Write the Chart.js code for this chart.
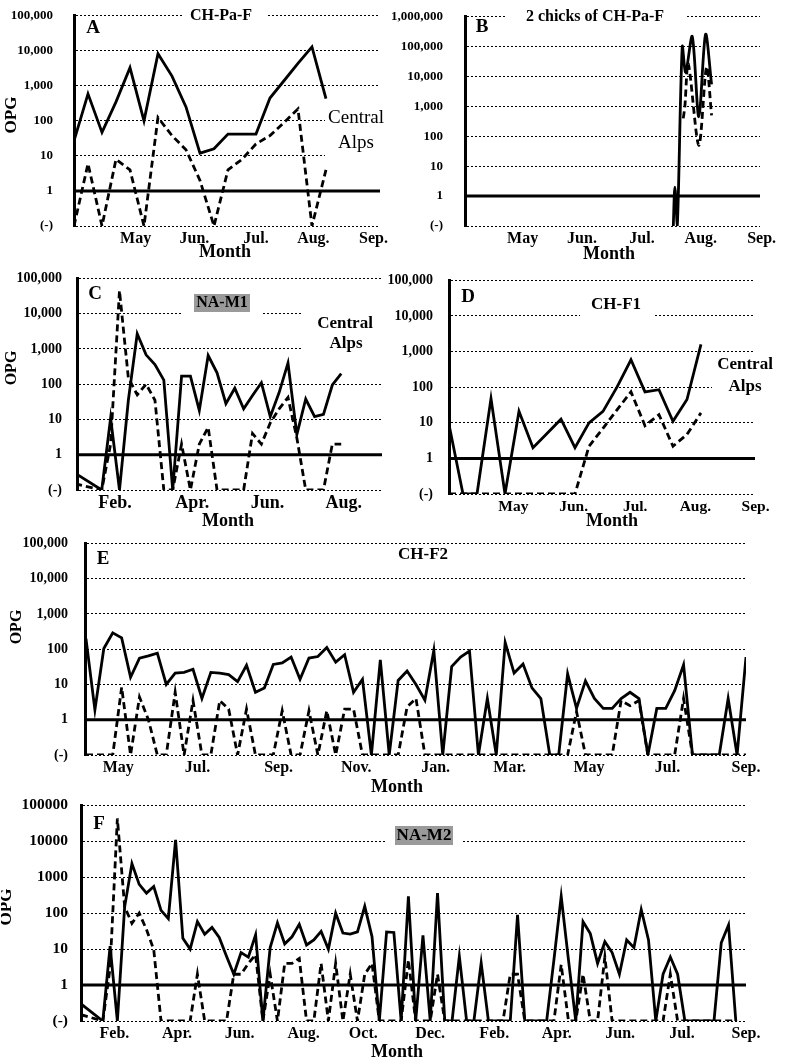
<!DOCTYPE html>
<html>
<head>
<meta charset="utf-8">
<script src="https://cdn.jsdelivr.net/npm/chart.js@4.4.1/dist/chart.umd.min.js"></script>
<style>
  body { margin: 0; background: #fff; }
  #stage { position: relative; width: 787px; height: 1061px; overflow: hidden; background: #fff; }
  #stage canvas { position: absolute; }
</style>
</head>
<body>
<div id="stage"></div>
<script>
// "(-)" = not detected, drawn on the lowest row of the log axis
const NEG = 0.1;

// A: CH-Pa-F (sample index)
const monthsA = ['May', 'Jun.', 'Jul.', 'Aug.', 'Sep.'];
const monthAtA = [4.4, 8.6, 13.0, 17.1, 21.4];
const solidA = [27, 590, 47, 350, 3300, 100, 8300, 1900, 250, 12, 16, 42, 42, 42, 450, 1400, 4400, 13000, 430];
const dashA = [0, 6, 0, 8, 4, 0, 125, 38, 15, 2, 0, 4, 8, 22, 38, 90, 220, 0, 4];

// B: 2 chicks of CH-Pa-F (days)
const monthsB = ['May', 'Jun.', 'Jul.', 'Aug.', 'Sep.'];
const monthAtB = [28.9, 58.7, 88.8, 118.3, 148.8];
const daysB = [104.5, 105.3, 106.5, 109, 110.7, 114, 117.3, 120.7, 123.7];
const solidB = [0, 2, 0, 100000, 14000, 220000, 450, 260000, 5500];
const daysBd = [109.5, 110.3, 112, 117.3, 121.2, 123.7];
const dashB = [400, 1000, 27000, 50, 21000, 500];

// C: NA-M1
const monthsC = ['Feb.', 'Apr.', 'Jun.', 'Aug.'];
const monthAtC = [4.5, 13.2, 21.7, 30.3];
const solidC = [0.3, null, null, 0, 11, 0, 35, 2700, 680, 360, 130, 0, 170, 170, 18, 650, 210, 28, 77, 20,
  48, 110, 12, 58, 400, 3.7, 38, 12, 14, 95, 200];
const dashC = [0.15, null, null, 0, 2, 45000, 150, 50, 100, 35, 0, 0, 2, 0, 2, 6, 0, 0, 0, 0,
  4, 2, 8, 20, 42, 3, 0, 0, 0, 2, 2];

// D: CH-F1
const monthsD = ['May', 'Jun.', 'Jul.', 'Aug.', 'Sep.'];
const monthAtD = [4.6, 8.9, 13.3, 17.6, 21.9];
const solidD = [9, 0, 0, 48, 0, 21, 2, 5, 12.6, 2, 10, 21, 100, 590, 74, 85, 11, 45, 1600];
const dashD = [0, 0, 0, 0, 0, 0, 0, 0, 0, 0, 2.2, 7, 23, 74, 8.3, 17, 2.2, 4.7, 19];

// E: CH-F2
const monthsE = ['May', 'Jul.', 'Sep.', 'Nov.', 'Jan.', 'Mar.', 'May', 'Jul.', 'Sep.'];
const monthAtE = [3.62, 12.5, 21.6, 30.3, 39.2, 47.5, 56.4, 65.2, 74];
const solidE = [200, 1.9, 105, 290, 210, 16, 56, 65, 77, 10,
  21, 22, 27, 4, 22, 21, 19, 12, 35, 6,
  8, 37, 41, 60, 14, 56, 62, 112, 43, 70,
  6, 14, 0, 50, 0, 13, 24, 10, 3.6, 92,
  0, 32, 60, 89, 0, 4, 0, 155, 21, 38,
  8, 4, 0, 0, 20, 2.1, 12.6, 4, 2.1, 2.1,
  4, 6, 4, 0, 2.1, 2.1, 6.7, 36, 0, 0,
  0, 0, 4, 0, 60];
const dashE = [0, 0, 0, 0, 8.3, 0, 4.4, 1, 0, 0,
  6, 0, 3.5, 0, 0, 3.5, 2, 0, 2, 0,
  0, 0, 1.8, 0, 0, 1.8, 0, 1.8, 0, 2,
  2, 0, 0, 0, 0, 0, 2.3, 4, 0, 0,
  0, 0, 0, 0, 0, 0, 0, 0, 0, 0,
  0, 0, 0, 0, 0, 1.7, 0, 0, 0, 0,
  3.5, 2.5, 3.5, 0, 0, 0, 0, 4, 0, 0,
  0, 0, 0, 0, 0];

// F: NA-M2
const monthsF = ['Feb.', 'Apr.', 'Jun.', 'Aug.', 'Oct.', 'Dec.', 'Feb.', 'Apr.', 'Jun.', 'Jul.', 'Sep.'];
const monthAtF = [4.6, 13.2, 21.8, 30.6, 38.8, 48.0, 56.8, 65.4, 74.1, 82.6, 91.4];
const solidF = [0.3, null, null, 0, 12, 0, 150, 2400, 630, 360,
  550, 120, 70, 11000, 20, 10, 58, 26, 40, 21,
  6.3, 2, 8, 6, 25, 0, 11, 54, 14, 22,
  49, 13, 18, 31, 10, 100, 28, 26, 30, 155,
  22, 0, 30, 29, 0, 295, 0, 24, 0, 360,
  0, 0, 6.3, 0, 0, 4.1, 0, 0, 0, 0,
  90, 0, 0, 0, 0, 5, 295, 5, 0, 58,
  27, 4, 16, 8, 2, 18, 11, 126, 18, 0,
  2, 6, 2, 0, 0, 0, 0, 0, 15, 47,
  0];
const dashF = [0.15, null, null, 0, 3, 43000, 150, 52, 100, 35,
  9.6, 0, 0, 0, 0, 0, 2, 0, 0, 0,
  0, 2, 2, 4, 7, 0, 2, 0, 4, 4,
  5.5, 0, 0, 4, 0, 4, 0, 2, 0, 2,
  4, 0, 0, 0, 0, 5, 0, 0, 0, 2,
  0, 0, 0, 0, 0, 0, 0, 0, 0, 2,
  2, 0, 0, 0, 0, 0, 3.7, 0, 0, 2,
  0, 0, 6, 0, 0, 0, 0, 0, 0, 0,
  0, 2, 0, 0, 0, 0, 0, 0, 0, 0,
  0];

const SERIF = '"Liberation Serif", "Times New Roman", serif';
const LEFT = 80, TOP = 20, RIGHT = 40, BOTTOM = 50;

function points(vals, xs) {
  return vals.map((v, i) => ({ x: xs ? xs[i] : i, y: v === null ? null : (v === 0 ? NEG : v) }));
}

function notesPlugin(p, ox, oy) {
  return {
    id: 'notes',
    beforeDatasetsDraw(chart) {
      const ctx = chart.ctx;
      ctx.save();
      (p.boxes || []).forEach(b => {
        ctx.fillStyle = b.fill;
        ctx.fillRect(b.x0 - ox, b.y0 - oy, b.x1 - b.x0, b.y1 - b.y0);
      });
      ctx.restore();
    },
    afterDatasetsDraw(chart) {
      const ctx = chart.ctx;
      ctx.save();
      ctx.fillStyle = '#000';
      ctx.textAlign = 'center';
      ctx.textBaseline = 'middle';
      p.notes.forEach(n => {
        ctx.font = (n.normal ? '' : 'bold ') + n.size + 'px ' + SERIF;
        if (n.rotate) {
          ctx.save();
          ctx.translate(n.x - ox, n.y - oy);
          ctx.rotate(-Math.PI / 2);
          ctx.fillText(n.text, 0, 0);
          ctx.restore();
        } else {
          ctx.fillText(n.text, n.x - ox, n.y - oy);
        }
      });
      ctx.restore();
    }
  };
}

function drawPanel(p) {
  const a = p.area;
  const ox = a.l - LEFT, oy = a.t - TOP;
  const canvas = document.createElement('canvas');
  canvas.width = a.r - a.l + LEFT + RIGHT;
  canvas.height = a.b - a.t + TOP + BOTTOM;
  canvas.style.left = ox + 'px';
  canvas.style.top = oy + 'px';
  document.getElementById('stage').appendChild(canvas);

  const yTicks = [0.1, 1, 10, 100, 1000, 10000, 100000, 1000000].filter(v => v <= p.yMax);
  const line = { borderColor: '#000', borderWidth: 2.8, pointRadius: 0, tension: p.tension || 0, spanGaps: true };

  new Chart(canvas, {
    type: 'line',
    data: {
      datasets: [
        Object.assign({ data: points(p.solid, p.xs) }, line),
        Object.assign({ data: points(p.dash, p.xsDash || p.xs), borderDash: [7, 4] }, line),
        { data: [{ x: p.xMin, y: 1 }, { x: p.xMax, y: 1 }], borderColor: '#000', borderWidth: 3, pointRadius: 0 }
      ]
    },
    options: {
      responsive: false,
      animation: false,
      devicePixelRatio: 1,
      layout: { padding: { top: TOP, right: RIGHT, left: 0, bottom: 0 } },
      plugins: { legend: { display: false }, tooltip: { enabled: false } },
      scales: {
        x: {
          type: 'linear',
          min: p.xMin,
          max: p.xMax,
          grid: { display: false, drawTicks: false },
          border: { display: false },
          afterBuildTicks: s => { s.ticks = p.monthAt.map(v => ({ value: v })); },
          afterFit: s => { s.height = BOTTOM; },
          ticks: {
            autoSkip: false, maxRotation: 0, minRotation: 0,
            padding: p.xPad, color: '#000',
            font: { family: SERIF, size: p.xFont, weight: 'bold' },
            callback: (v, i) => p.months[i]
          }
        },
        y: {
          type: 'logarithmic',
          min: 0.1,
          max: p.yMax,
          afterBuildTicks: s => { s.ticks = yTicks.map(v => ({ value: v })); },
          afterFit: s => { s.width = LEFT; },
          grid: { color: '#000', lineWidth: 1, drawTicks: false },
          border: { display: true, color: '#000', width: 3, dash: [2, 2] },
          ticks: {
            padding: p.yPad, color: '#000',
            font: { family: SERIF, size: p.yFont, weight: 'bold' },
            callback: v => {
              if (Math.abs(v - 0.1) < 1e-9) return '(-)';
              return p.plain ? String(Math.round(v)) : Math.round(v).toLocaleString('en-US');
            }
          }
        }
      }
    },
    plugins: [notesPlugin(p, ox, oy)]
  });
}

const WHITE = '#fff', GREY = '#9a9a9a';

drawPanel({
  area: { l: 74, r: 380, t: 7, b: 226 }, xMin: 0, xMax: 21.86, yMax: 1e5,
  months: monthsA, monthAt: monthAtA, solid: solidA, dash: dashA,
  yFont: 13, yPad: 21, xFont: 16, xPad: 3,
  boxes: [{ x0: 182, y0: 0, x1: 268, y1: 25, fill: WHITE }, { x0: 325, y0: 104, x1: 392, y1: 158, fill: WHITE }],
  notes: [
    { text: 'A', x: 93, y: 28, size: 19 },
    { text: 'CH-Pa-F', x: 221, y: 16, size: 16 },
    { text: 'Central', x: 356, y: 118, size: 19, normal: true },
    { text: 'Alps', x: 356, y: 143, size: 19, normal: true },
    { text: 'OPG', x: 12, y: 115, size: 17, rotate: true },
    { text: 'Month', x: 225, y: 252, size: 18 }
  ]
});

drawPanel({
  area: { l: 465, r: 760, t: 7, b: 226 }, xMin: 0, xMax: 148, yMax: 1e6,
  months: monthsB, monthAt: monthAtB, solid: solidB, dash: dashB, xs: daysB, xsDash: daysBd, tension: 0.3,
  yFont: 13, yPad: 22, xFont: 16, xPad: 3,
  boxes: [{ x0: 507, y0: 0, x1: 687, y1: 26, fill: WHITE }],
  notes: [
    { text: 'B', x: 482, y: 27, size: 19 },
    { text: '2 chicks of CH-Pa-F', x: 595, y: 17, size: 16 },
    { text: 'Month', x: 609, y: 254, size: 18 }
  ]
});

drawPanel({
  area: { l: 77, r: 382, t: 275, b: 490 }, xMin: 0.21, xMax: 34.6, yMax: 1e5,
  months: monthsC, monthAt: monthAtC, solid: solidC, dash: dashC,
  yFont: 14, yPad: 15, xFont: 18, xPad: 3,
  boxes: [
    { x0: 183, y0: 290, x1: 261, y1: 316, fill: WHITE },
    { x0: 194, y0: 294, x1: 250, y1: 312, fill: GREY },
    { x0: 302, y0: 300, x1: 390, y1: 356, fill: WHITE }
  ],
  notes: [
    { text: 'C', x: 95, y: 294, size: 19 },
    { text: 'NA-M1', x: 222, y: 303, size: 16 },
    { text: 'Central', x: 345, y: 324, size: 17 },
    { text: 'Alps', x: 346, y: 344, size: 17 },
    { text: 'OPG', x: 12, y: 368, size: 16, rotate: true },
    { text: 'Month', x: 228, y: 521, size: 18 }
  ]
});

drawPanel({
  area: { l: 449, r: 755, t: 276, b: 494 }, xMin: 0, xMax: 21.86, yMax: 1e5,
  months: monthsD, monthAt: monthAtD, solid: solidD, dash: dashD,
  yFont: 14, yPad: 16, xFont: 15.5, xPad: 4,
  boxes: [{ x0: 580, y0: 293, x1: 654, y1: 318, fill: WHITE }, { x0: 712, y0: 352, x1: 787, y1: 400, fill: WHITE }],
  notes: [
    { text: 'D', x: 468, y: 297, size: 19 },
    { text: 'CH-F1', x: 616, y: 305, size: 17 },
    { text: 'Central', x: 745, y: 365, size: 17 },
    { text: 'Alps', x: 745, y: 387, size: 17 },
    { text: 'Month', x: 612, y: 521, size: 18 }
  ]
});

drawPanel({
  area: { l: 85, r: 746, t: 538, b: 755 }, xMin: -0.11, xMax: 74, yMax: 1e5,
  months: monthsE, monthAt: monthAtE, solid: solidE, dash: dashE,
  yFont: 14, yPad: 17, xFont: 16, xPad: 3,
  notes: [
    { text: 'E', x: 103, y: 559, size: 19 },
    { text: 'CH-F2', x: 423, y: 555, size: 17 },
    { text: 'OPG', x: 17, y: 627, size: 16, rotate: true },
    { text: 'Month', x: 397, y: 787, size: 18 }
  ]
});

drawPanel({
  area: { l: 81, r: 746, t: 803, b: 1021 }, xMin: 0, xMax: 91.4, yMax: 1e5, plain: true,
  months: monthsF, monthAt: monthAtF, solid: solidF, dash: dashF,
  yFont: 15.5, yPad: 13, xFont: 16, xPad: 3,
  boxes: [
    { x0: 385, y0: 822, x1: 463, y1: 849, fill: WHITE },
    { x0: 395, y0: 826, x1: 453, y1: 845, fill: GREY }
  ],
  notes: [
    { text: 'F', x: 99, y: 824, size: 19 },
    { text: 'NA-M2', x: 424, y: 836, size: 17 },
    { text: 'OPG', x: 7, y: 907, size: 17, rotate: true },
    { text: 'Month', x: 397, y: 1052, size: 18 }
  ]
});
</script>
</body>
</html>
